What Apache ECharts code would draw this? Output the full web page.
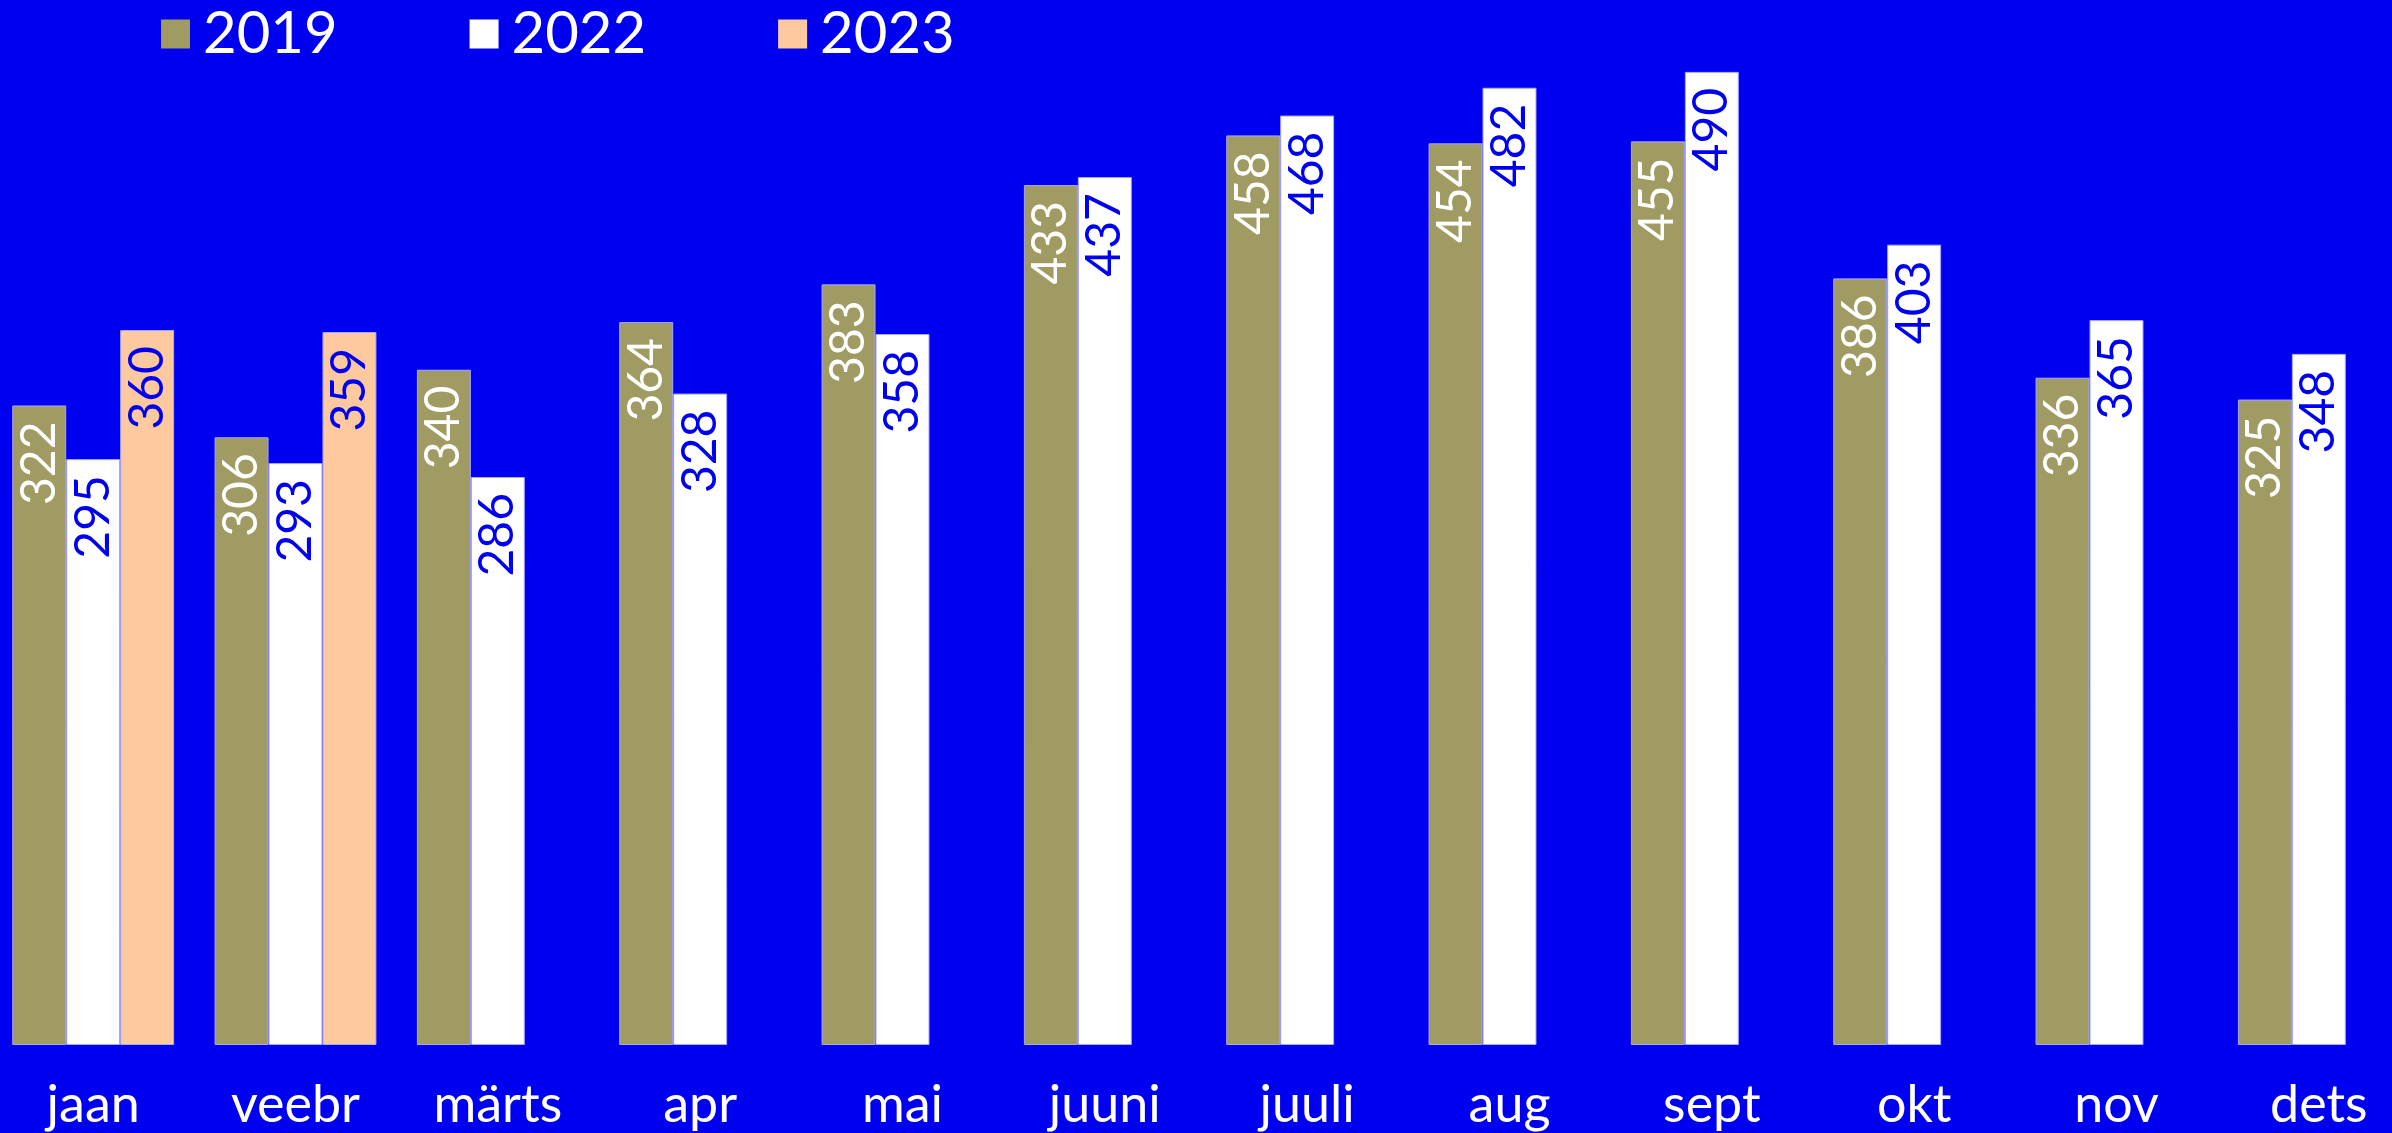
<!DOCTYPE html>
<html>
<head>
<meta charset="utf-8">
<script src="https://cdn.jsdelivr.net/npm/echarts@6/dist/echarts.min.js"></script>
<style>
html,body{margin:0;padding:0;background:#0000f0;overflow:hidden;width:2392px;height:1133px;position:relative;}
#chart{position:absolute;left:-8px;top:0;width:2428px;height:1133px;}
</style>
</head>
<body>
<div id="chart"></div>
<script>
const categories = ['jaan','veebr','märts','apr','mai','juuni','juuli','aug','sept','okt','nov','dets'];
const seriesNames = ['2019','2022','2023'];
const values2019 = [322,306,340,364,383,433,458,454,455,386,336,325];
const values2022 = [295,293,286,328,358,437,468,482,490,403,365,348];
const values2023 = [360,359,null,null,null,null,null,null,null,null,null,null];

const BG = '#0000f0';
const colors = ['#a09b62','#ffffff','#ffc9a0'];
const labelColors = ['#ffffff', BG, BG];
const dataSets = [values2019, values2022, values2023];

const chart = echarts.init(document.getElementById('chart'));
chart.setOption({
  backgroundColor: BG,
  animation: false,
  legend: {
    left: 164, top: 0,
    itemWidth: 29, itemHeight: 29, itemGap: 132,
    icon: 'rect',
    itemStyle: {borderWidth: 0},
    textStyle: {color: '#ffffff', fontSize: 58, fontFamily: 'Lato', padding: [0,0,0,8], lineHeight: 58},
    data: seriesNames
  },
  grid: {left: 0, right: 0, top: 52, bottom: 88, containLabel: false},
  xAxis: {
    type: 'category',
    data: categories,
    axisLine: {show: false},
    axisTick: {show: false},
    splitLine: {show: false},
    axisLabel: {color: '#ffffff', fontSize: 52, fontFamily: 'Lato', margin: 34, interval: 0}
  },
  yAxis: {
    type: 'value', min: 0, max: 500,
    show: false,
    splitLine: {show: false}
  },
  series: seriesNames.map((name, i) => ({
    name: name,
    type: 'bar',
    data: dataSets[i],
    barGap: '0%',
    barCategoryGap: '20%',
    itemStyle: {color: colors[i], borderColor: '#a8a8ff', borderWidth: 1},
    label: {
      show: true,
      position: 'insideTop',
      rotate: 90,
      align: 'right',
      verticalAlign: 'middle',
      distance: 16,
      color: labelColors[i],
      fontSize: 48,
      fontFamily: 'Lato'
    }
  }))
});
</script>
</body>
</html>
